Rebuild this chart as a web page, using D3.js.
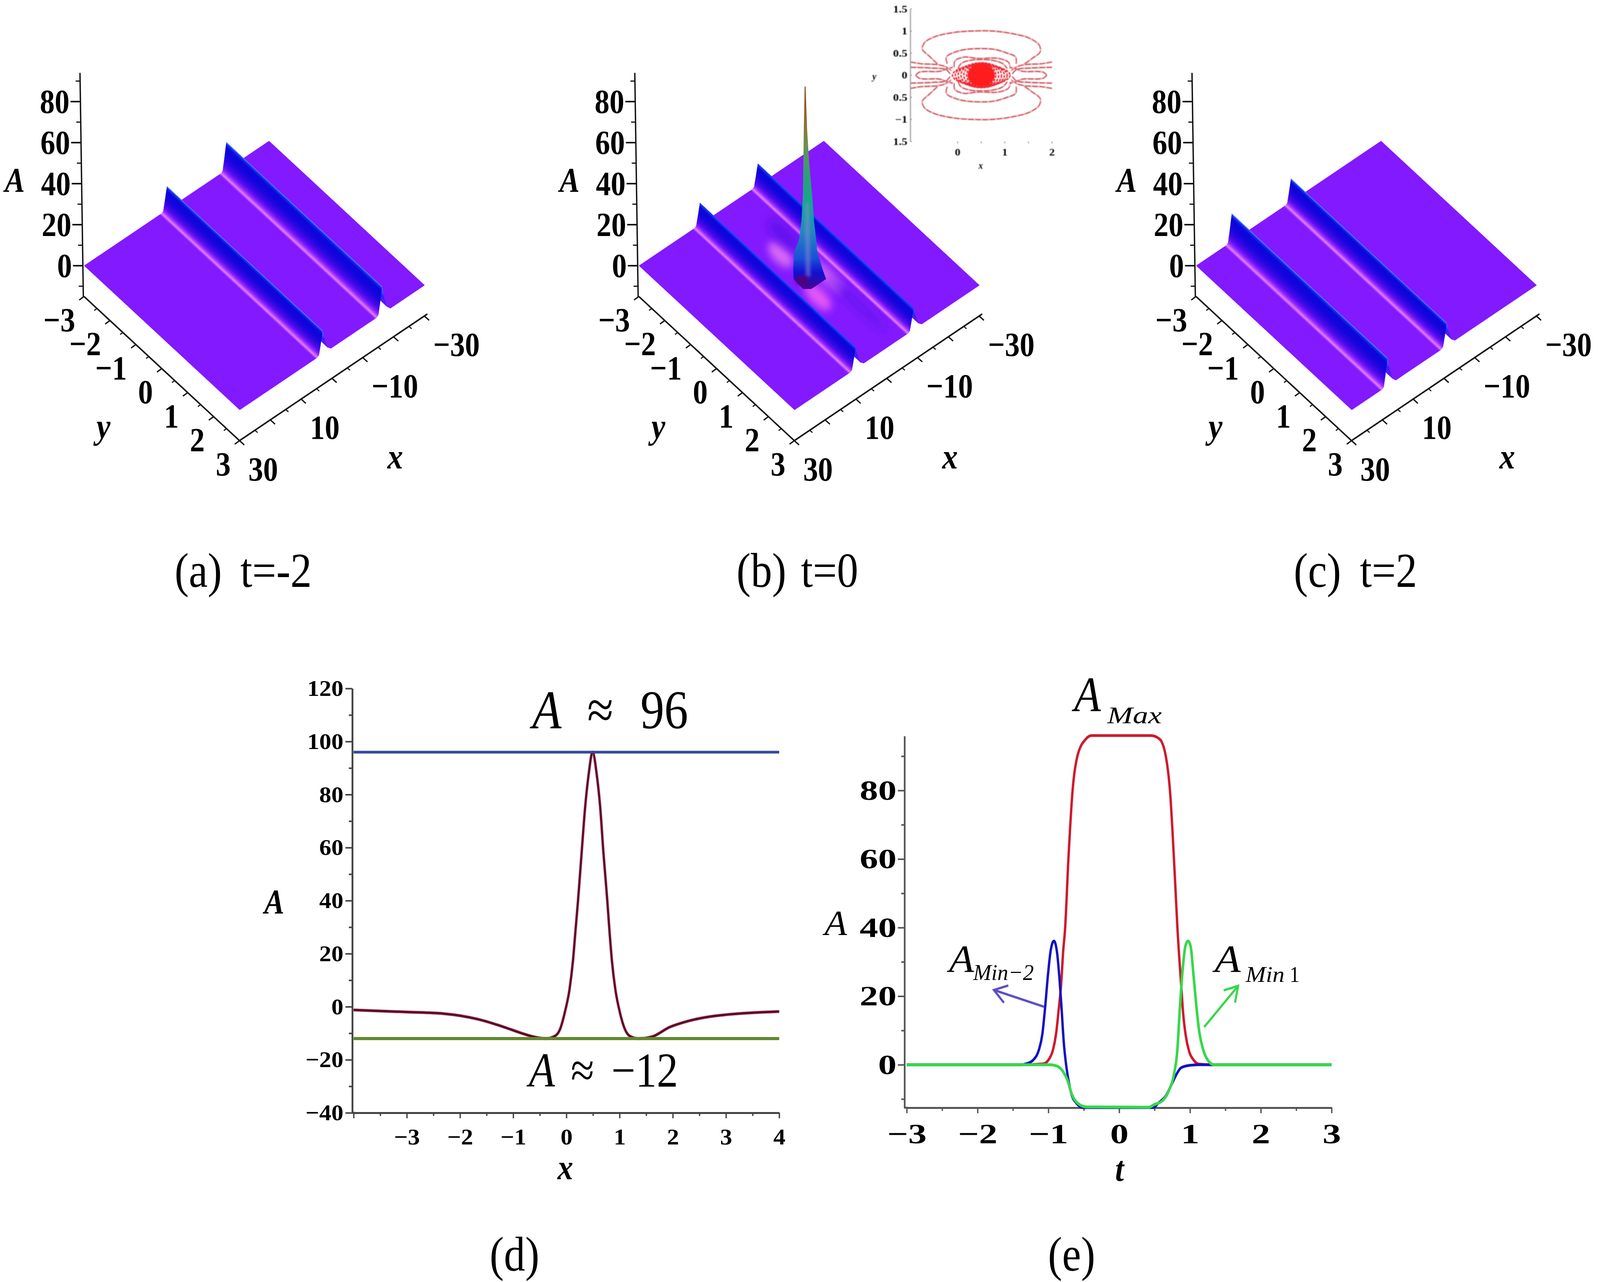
<!DOCTYPE html>
<html>
<head>
<meta charset="utf-8">
<script src="https://cdn.jsdelivr.net/npm/d3@7"></script>
<style>
html, body { margin: 0; padding: 0; background: #fff; overflow: hidden; }
svg { display: block; width: 100vw; height: 100vh; }
text { font-family: "Liberation Serif", serif; fill: #000; }
</style>
</head>
<body>
<div id="chart"></div>
<script>
// ridge crests of the three surfaces, x position and height
var crestX_a = [-16.3, 3.0], crestA_a = [13.3, 11.3]
var crestX_b = [-8.7, 10.1], crestA_b = [10.5, 10.4]
var crestX_c = [-0.9, 18.3], crestA_c = [11.1, 13.5]

// cross section of one ridge: distance from crest, share of the crest height, colour
var ridgeOffset = [-2.6, -1.5, -0.6, 0, 0.06, 0.2, 0.5, 0.8, 1.1, 1.3, 1.85, 2.5]
var ridgeShare = [0, 0.15, 0.55, 1, 0.95, 0.85, 0.62, 0.4, 0.2, 0.06, 0, 0]
var ridgeColor = ["#8219ff", "#6418fa", "#2a20f0", "#4f78ff", "#1530ee", "#0a06dc", "#1204dc", "#2c06e2", "#5a0cf0", "#9228ff", "#e67bff", "#8219ff"]
var flatColor = "#8219ff"

// the spike of panel (b)
var spikeX = 2.9, spikeY = 0.31
var spikeA = [98.7, 77, 61.5, 46, 33, 24, 18, 9.7, 4.8, 0]
var spikeLeft = [0.2, 0.7, 1.0, 1.3, 1.9, 2.8, 4.4, 4.8, 4.7, 1.7]
var spikeRight = [0.1, 0.4, 0.9, 1.7, 2.2, 2.8, 3.1, 4.7, 5.8, 1.0]
var spikeStopA = [98.7, 85, 70, 55, 40, 28, 15, 8, 2, 0]
var spikeStopColor = ["#7a4a20", "#98622a", "#6f9050", "#2c9f78", "#10a892", "#2088c0", "#1a50d8", "#1010d0", "#3a08a0", "#4a0090"]

// soft patches on the surface around the spike
var blobX = [1.16, 2.68, -3.18, -3.4, -3.3]
var blobY = [-0.97, 0.65, 0.22, -1.38, 1.48]
var blobAlong = [0.45, 0.5, 0.7, 0.6, 1.1]
var blobAcross = [2.2, 2.2, 2.0, 2.4, 1.4]
var blobColor = ["#e878f4", "#f060f4", "#e878f4", "#5a10e8", "#5a12e8"]
var blobOpacity = [0.85, 0.9, 0.7, 0.7, 0.6]

var zMajor = [0, 20, 40, 60, 80], zMinor = [-10, 10, 30, 50, 70, 90]
var yMajor = [-3, -2, -1, 0, 1, 2, 3], yMinor = [-2.5, -1.5, -0.5, 0.5, 1.5, 2.5]
var xLabelled = [-30, -10, 10, 30], xMajor = [-30, -20, -10, 0, 10, 20, 30], xMinor = [-25, -15, -5, 5, 15, 25]

// contour inset, upper half
var lobeX = [-0.43, -0.61, -0.75, -0.70, -0.49, -0.07, 0.28, 0.75, 1.17, 1.52, 1.73, 1.75, 1.58, 1.41]
var lobeY = [0.26, 0.44, 0.59, 0.74, 0.87, 0.97, 1.0, 1.0, 0.94, 0.84, 0.68, 0.53, 0.38, 0.25]
var ring2X = [-0.22, -0.24, -0.04, 0.22, 0.75, 1.05, 1.23, 1.24], ring2Y = [0.26, 0.41, 0.53, 0.59, 0.59, 0.50, 0.41, 0.26]
var ring3X = [-0.07, -0.06, 0.13, 0.43, 0.87, 1.08, 1.12], ring3Y = [0.18, 0.32, 0.41, 0.38, 0.38, 0.29, 0.15]
var ring4X = [0.01, 0.07, 0.28, 0.72, 0.96, 1.05], ring4Y = [0.15, 0.26, 0.34, 0.34, 0.26, 0.15]
var side1X = [-1, -0.78, -0.43, -0.25, -0.13], side1Y = [0.30, 0.26, 0.24, 0.19, 0.10]
var side2X = [-1, -0.49, -0.25, -0.16], side2Y = [0.18, 0.16, 0.13, 0.03]
var fingerX = [-0.89, -0.81, -0.37, -0.22, -0.10], fingerY = [0, 0.07, 0.09, 0.15, 0.18]
var coreRx = [0.31, 0.37, 0.43, 0.49, 0.55, 0.61], coreRy = [0.26, 0.27, 0.28, 0.27, 0.25, 0.22]
var insetYTicks = [1.5, 1, 0.5, 0, -0.5, -1, -1.5]
var insetYLabels = ["1.5", "1", "0.5", "0", "0.5", "\u22121", "1.5"]
var insetXTicks = [0, 0.5, 1, 1.5, 2]

// panel (d)
var dX = [-4, -3, -2.31, -1.665, -1.167, -0.84, -0.58, -0.385, -0.22, -0.12, -0.025, 0.058, 0.122, 0.172, 0.22, 0.286, 0.351, 0.417, 0.492, 0.571, 0.636, 0.696, 0.767, 0.808, 0.857, 0.92, 1.0, 1.1, 1.196, 1.36, 1.61, 1.94, 2.27, 2.82, 3, 4]
var dA = [-1.2, -2, -2.6, -4.7, -7.7, -10, -11.5, -12, -11.1, -8.5, -1.7, 6.5, 17.1, 29, 40.4, 58, 75, 87.4, 96, 87.4, 75, 58, 40.4, 29, 17, 6.5, -1.7, -8.5, -11.1, -12, -11.3, -7.7, -5.5, -3.4, -3, -1.8]
var dTop = 96, dBottom = -12

// panel (e)
var redT = [-3, -1.4, -1.069, -0.989, -0.934, -0.892, -0.852, -0.82, -0.789, -0.765, -0.717, -0.658, -0.59, -0.47, -0.39, 0.447, 0.57, 0.658, 0.717, 0.786, 0.824, 0.873, 0.905, 0.937, 0.986, 1.05, 1.13, 1.3, 3]
var redA = [0, 0, 0.3, 1.7, 4.4, 8.9, 16.5, 23.4, 33.6, 39.3, 60, 80, 90, 95, 96, 96, 95, 90, 80, 55, 39.3, 24, 14.6, 8.9, 4, 1.4, 0.2, 0, 0]
var blueT = [-3, -1.4, -1.31, -1.2, -1.133, -1.085, -1.045, -1.005, -0.965, -0.921, -0.876, -0.844, -0.815, -0.78, -0.748, -0.717, -0.669, -0.603, -0.507, 0.48, 0.552, 0.665, 0.745, 0.809, 0.873, 0.986, 1.15, 3]
var blueA = [0, 0, 0.3, 1.7, 4.4, 8.9, 16.9, 26.4, 33.6, 36.1, 32.5, 25.3, 16.9, 5.9, -0.2, -4.4, -8.9, -11.2, -12.5, -12.5, -11.2, -8.9, -5.5, -2.8, -0.9, -0.2, 0, 0]
var greenT = [-3, -1.358, -0.973, -0.876, -0.796, -0.732, -0.669, -0.587, -0.459, 0.42, 0.487, 0.616, 0.697, 0.776, 0.817, 0.857, 0.897, 0.937, 0.973, 1.01, 1.05, 1.089, 1.13, 1.186, 1.25, 1.339, 3]
var greenA = [0, 0, 0, -0.4, -1.9, -4.4, -8.6, -11.2, -12.3, -12.4, -11.7, -10.4, -7.8, -2.5, 3.2, 16.5, 27.9, 34.8, 36.1, 34.4, 26, 17.3, 9.7, 4.4, 1.4, 0, 0]

// the window can be narrower than the picture, the viewBox keeps every mark at its place
var svg = d3.select("#chart").append("svg")
    .attr("viewBox", "0 0 4692 3281")
    .attr("preserveAspectRatio", "none")
var defs = svg.append("defs")
defs.append("filter").attr("id", "soft").attr("x", "-60%").attr("y", "-60%").attr("width", "220%").attr("height", "220%")
    .append("feGaussianBlur").attr("stdDeviation", 11)
defs.append("filter").attr("id", "softer").attr("x", "-10%").attr("y", "-10%").attr("width", "120%").attr("height", "120%")
    .append("feGaussianBlur").attr("stdDeviation", 1.1)
defs.append("filter").attr("id", "streak").attr("x", "-100%").attr("y", "-10%").attr("width", "300%").attr("height", "120%")
    .append("feGaussianBlur").attr("stdDeviation", 4)

var gradId = 0
var noLabel = function () { return "" }

function label(g, x, y, str, opt) {
    opt = opt || {}
    var t = g.append("text")
        .attr("x", x).attr("y", y)
        .attr("font-size", opt.size || 87)
        .attr("font-weight", opt.bold ? "bold" : "normal")
        .attr("font-style", opt.italic ? "italic" : "normal")
        .attr("text-anchor", opt.anchor || "start")
        .text(str)
    if (opt.sx) stretch(t, opt.sx)
    return t
}

function stretch(sel, sx) {
    sel.each(function () {
        var w = this.getComputedTextLength()
        if (w > 0) d3.select(this).attr("textLength", w * sx).attr("lengthAdjust", "spacingAndGlyphs")
    })
}

// ---- the three surfaces ----
function surfacePanel(left, crestX, crestA, crestTint, withSpike) {
    var g = svg.append("g")
    var uScale = d3.scaleLinear().domain([30, -30]).range([0, 1])
    var vScale = d3.scaleLinear().domain([-3, 3]).range([0, 1])
    var zPx = d3.scaleLinear().domain([0, 1]).range([0, 5.25])

    var project = function (x, y, a) {
        var u = uScale(x), v = vScale(y)
        return [left + 247 + u * 542 + v * 456 - 0.09 * a,
                680 - u * 319 + v * 369 - zPx(a)]
    }
    var floor = function (x, y) {
        var p = project(x, y, -15)
        return [p[0] - 2, p[1]]
    }
    var ridgeDir = [456 / 586.6, 369 / 586.6]
    var normal = [ridgeDir[1], -ridgeDir[0]]

    var strip = function (x0, a0, c0, x1, a1, c1) {
        var p0 = project(x0, -3, a0), p1 = project(x0, 3, a0)
        var q0 = project(x1, -3, a1), q1 = project(x1, 3, a1)
        var d = (q0[0] - p0[0]) * normal[0] + (q0[1] - p0[1]) * normal[1]
        var id = "strip" + (gradId++)
        var grad = defs.append("linearGradient").attr("id", id)
            .attr("gradientUnits", "userSpaceOnUse")
            .attr("x1", p0[0]).attr("y1", p0[1])
            .attr("x2", p0[0] + normal[0] * d).attr("y2", p0[1] + normal[1] * d)
        grad.append("stop").attr("offset", 0).attr("stop-color", c0)
        grad.append("stop").attr("offset", 1).attr("stop-color", c1)
        g.append("polygon")
            .attr("points", [p0, p1, q1, q0].map(function (p) { return p.join(",") }).join(" "))
            .attr("fill", "url(#" + id + ")")
            .attr("stroke", "url(#" + id + ")")
            .attr("stroke-width", 1)
    }

    // painted from the far edge x=-30 to the near edge x=30
    var from = -30
    crestX.forEach(function (cx, r) {
        strip(from, 0, flatColor, cx + ridgeOffset[0], 0, flatColor)
        ridgeOffset.forEach(function (off, i) {
            if (i == 0) return
            var tint = function (k) { return ridgeOffset[k] == 0 ? crestTint : ridgeColor[k] }
            strip(cx + ridgeOffset[i - 1], crestA[r] * ridgeShare[i - 1], tint(i - 1),
                  cx + off, crestA[r] * ridgeShare[i], tint(i))
        })
        from = cx + ridgeOffset[ridgeOffset.length - 1]
        // patches sit between the two ridges, so the near ridge still covers them
        if (withSpike && r == 0) {
            strip(from, 0, flatColor, crestX[1] + ridgeOffset[0], 0, flatColor)
            from = crestX[1] + ridgeOffset[0]
            blobX.forEach(function (bx, i) {
                var c = project(bx, blobY[i], 0)
                g.append("ellipse")
                    .attr("transform", "translate(" + c[0] + "," + c[1] + ") rotate(39)")
                    .attr("rx", blobAlong[i] * 97.8)
                    .attr("ry", blobAcross[i] * 9.8)
                    .attr("fill", blobColor[i])
                    .attr("opacity", blobOpacity[i])
                    .attr("filter", "url(#soft)")
            })
        }
    })
    strip(from, 0, flatColor, 30, 0, flatColor)

    if (withSpike) drawSpike(g, project)

    // z axis
    var ink = "#111"
    var axisLine = function (a, b, w) {
        g.append("line").attr("x1", a[0]).attr("y1", a[1]).attr("x2", b[0]).attr("y2", b[1])
            .attr("stroke", ink).attr("stroke-width", w)
    }
    var zAt = function (a) { var p = project(30, -3, a); return [p[0] - 4, p[1]] }
    axisLine(zAt(-15), zAt(94), 4)
    zMajor.forEach(function (a) {
        var p = zAt(a)
        axisLine([p[0] - 29, p[1]], p, 4)
        label(g, p[0] - 32, p[1] + 29, d3.format("")(a), { size: 87, bold: true, anchor: "end" })
    })
    zMinor.forEach(function (a) {
        var p = zAt(a)
        axisLine([p[0] - 13, p[1]], p, 3)
    })

    // y axis along the left lower edge
    axisLine(floor(30, -3), floor(30, 3), 4)
    yMajor.forEach(function (y) {
        var p = floor(30, y)
        axisLine(p, [p[0] - 14, p[1] + 9], 3.5)
        label(g, p[0] - 26, p[1] + 89, d3.format("")(y), { size: 87, bold: true, anchor: "end" })
    })
    yMinor.forEach(function (y) {
        var p = floor(30, y)
        axisLine(p, [p[0] - 8, p[1] + 5], 3)
    })

    // x axis along the right lower edge
    axisLine(floor(30, 3), floor(-31, 3), 4)
    xMajor.forEach(function (x) {
        var p = floor(x, 3)
        axisLine(p, [p[0] + 14, p[1] + 11], 3.5)
    })
    xMinor.forEach(function (x) {
        var p = floor(x, 3)
        axisLine(p, [p[0] + 8, p[1] + 6], 3)
    })
    xLabelled.forEach(function (x) {
        var p = floor(x, 3)
        label(g, p[0] + 26, p[1] + 102, d3.format("")(x), { size: 87, bold: true })
    })

    label(g, left + 14, 490, "A", { size: 88, bold: true, italic: true })
    label(g, left + 283, 1122, "y", { size: 92, bold: true, italic: true })
    label(g, left + 1136, 1199, "x", { size: 92, bold: true, italic: true })
}

function drawSpike(g, project) {
    var unit = 542 / 60
    var edge = function (a, w) {
        var p = project(spikeX, spikeY, a)
        return [p[0] + w * unit, p[1]]
    }
    var top = project(spikeX, spikeY, spikeA[0])[1]
    var bottom = project(spikeX, spikeY, spikeA[spikeA.length - 1])[1]
    var yPos = d3.scaleLinear().domain([top, bottom]).range([0, 1])
    var grad = defs.append("linearGradient").attr("id", "spikeFill")
        .attr("gradientUnits", "userSpaceOnUse")
        .attr("x1", 0).attr("x2", 0).attr("y1", top).attr("y2", bottom)
    spikeStopA.forEach(function (a, i) {
        grad.append("stop")
            .attr("offset", yPos(project(spikeX, spikeY, a)[1]))
            .attr("stop-color", spikeStopColor[i])
    })
    var pts = spikeA.map(function (a, i) { return edge(a, -spikeLeft[i]) })
        .concat(spikeA.map(function (a, i) { return edge(a, spikeRight[i]) }).reverse())
    g.append("path")
        .attr("d", d3.line()(pts) + "Z")
        .attr("fill", "url(#spikeFill)")

    // pale streak down the lower part of the spike, dark foot below it
    var s0 = edge(42, 0), s1 = edge(6, 0)
    g.append("path")
        .attr("d", d3.line()([[s0[0] - 6, s0[1]], [s0[0] + 6, s0[1]], [s1[0] + 7, s1[1]], [s1[0] - 7, s1[1]]]) + "Z")
        .attr("fill", "#8a88cc").attr("opacity", 0.55).attr("filter", "url(#streak)")
    var foot = project(spikeX, spikeY, 3)
    g.append("ellipse")
        .attr("cx", foot[0] - 18).attr("cy", foot[1] - 6)
        .attr("rx", 20).attr("ry", 13)
        .attr("fill", "#5a0070").attr("opacity", 0.75).attr("filter", "url(#streak)")
}

surfacePanel(0, crestX_a, crestA_a, "#5a86ff", false)
surfacePanel(1627, crestX_b, crestA_b, "#2a4cff", true)
surfacePanel(3261, crestX_c, crestA_c, "#5a86ff", false)

// ---- contour inset ----
function drawInset() {
    var g = svg.append("g").attr("filter", "url(#softer)")
    var x = d3.scaleLinear().domain([-1, 2]).range([2670, 3085])
    var y = d3.scaleLinear().domain([-1.5, 1.5]).range([362, 23])
    var line = d3.line().curve(d3.curveCatmullRom).x(function (d) { return x(d[0]) }).y(function (d) { return y(d[1]) })

    var contour = function (xs, ys, sx, sy) {
        var pts = xs.map(function (v, i) { return [sx < 0 ? 1 - v : v, sy * ys[i]] })
        g.append("path").attr("d", line(pts)).attr("fill", "none")
            .attr("stroke", "#f2b4b8").attr("stroke-width", 4.5)
        g.append("path").attr("d", line(pts)).attr("fill", "none")
            .attr("stroke", "#bf2c3a").attr("stroke-width", 2.4)
            .attr("stroke-dasharray", "16 5")
    }
    ;[1, -1].forEach(function (sy) {
        contour(lobeX, lobeY, 1, sy)
        contour(ring2X, ring2Y, 1, sy)
        contour(ring3X, ring3Y, 1, sy)
        contour(ring4X, ring4Y, 1, sy)
        ;[1, -1].forEach(function (sx) {
            contour(side1X, side1Y, sx, sy)
            contour(side2X, side2Y, sx, sy)
            contour(fingerX, fingerY, sx, sy)
        })
    })
    coreRx.forEach(function (rx, i) {
        g.append("ellipse")
            .attr("cx", x(0.5)).attr("cy", y(0))
            .attr("rx", x(rx) - x(0)).attr("ry", y(0) - y(coreRy[i]))
            .attr("fill", "none").attr("stroke", "#ee2630").attr("stroke-width", 4)
            .attr("stroke-dasharray", "7 3")
    })
    g.append("ellipse")
        .attr("cx", x(0.5)).attr("cy", y(0))
        .attr("rx", x(0.29) - x(0)).attr("ry", y(0) - y(0.25))
        .attr("fill", "#ff1a1a")

    g.append("line").attr("x1", x(-1)).attr("x2", x(-1)).attr("y1", y(1.5)).attr("y2", y(-1.5))
        .attr("stroke", "#999").attr("stroke-width", 3)
    insetYTicks.forEach(function (v, i) {
        g.append("line").attr("x1", x(-1)).attr("x2", x(-1) + 4).attr("y1", y(v)).attr("y2", y(v))
            .attr("stroke", "#777").attr("stroke-width", 2)
        label(g, x(-1) - 9, y(v) + 9, insetYLabels[i], { size: 25, bold: true, anchor: "end", sx: 1.35 })
    })
    insetXTicks.forEach(function (v) {
        g.append("line").attr("x1", x(v)).attr("x2", x(v)).attr("y1", 362).attr("y2", 367)
            .attr("stroke", "#777").attr("stroke-width", 2)
    })
    ;[0, 1, 2].forEach(function (v) {
        label(g, x(v), 398, String(v), { size: 25, bold: true, anchor: "middle", sx: 1.3 })
    })
    label(g, 2564, 204, "y", { size: 26, bold: true, italic: true, anchor: "middle" })
    label(g, 2876, 432, "x", { size: 26, bold: true, italic: true, anchor: "middle" })
}
drawInset()

// ---- panels (d) and (e) ----
function styleAxis(g, size, sx, color) {
    g.select(".domain").attr("stroke", color).attr("stroke-width", 5)
    g.selectAll(".tick line").attr("stroke", color).attr("stroke-width", 4)
    var t = g.selectAll(".tick text")
        .attr("font-family", "Liberation Serif, serif")
        .attr("font-size", size).attr("font-weight", "bold").attr("fill", "#000")
    stretch(t, sx)
}

function lineOf(x, y) {
    return d3.line().curve(d3.curveMonotoneX)
        .x(function (d) { return x(d[0]) }).y(function (d) { return y(d[1]) })
}

function zipPts(xs, ys) {
    return xs.map(function (v, i) { return [v, ys[i]] })
}

function drawD() {
    var g = svg.append("g")
    var x = d3.scaleLinear().domain([-4, 4]).range([1037, 2285])
    var y = d3.scaleLinear().domain([-40, 120]).range([2848, 1762])
    var axisColor = "#444"

    var yMin = g.append("g").attr("transform", "translate(1033,0)")
        .call(d3.axisLeft(y).tickValues(d3.range(-30, 120, 20)).tickSize(10).tickSizeOuter(0).tickFormat(noLabel))
    var yMaj = g.append("g").attr("transform", "translate(1033,0)")
        .call(d3.axisLeft(y).tickValues(d3.range(-40, 121, 20)).tickSize(20).tickSizeOuter(0).tickPadding(6).tickFormat(d3.format("")))
    styleAxis(yMin, 10, 1, axisColor)
    styleAxis(yMaj, 58, 1.22, axisColor)
    var xMin = g.append("g").attr("transform", "translate(0,2848)")
        .call(d3.axisBottom(x).tickValues(d3.range(-3.5, 4, 1)).tickSize(8).tickSizeOuter(0).tickFormat(noLabel))
    var xMaj = g.append("g").attr("transform", "translate(0,2848)")
        .call(d3.axisBottom(x).tickValues(d3.range(-4, 5, 1)).tickSize(14).tickSizeOuter(0).tickPadding(26)
            .tickFormat(function (v) { return v == -4 ? "" : d3.format("")(v) }))
    styleAxis(xMin, 10, 1, axisColor)
    styleAxis(xMaj, 58, 1.22, axisColor)
    g.append("line").attr("x1", 1031).attr("x2", 1040).attr("y1", 2848).attr("y2", 2848)
        .attr("stroke", axisColor).attr("stroke-width", 5)

    var line = lineOf(x, y)
    g.append("path").attr("d", line(zipPts(dX, dA))).attr("fill", "none")
        .attr("stroke", "#d06a86").attr("stroke-width", 9).attr("opacity", 0.6)
    g.append("path").attr("d", line(zipPts(dX, dA))).attr("fill", "none")
        .attr("stroke", "#5c0a26").attr("stroke-width", 6)
    g.append("path").attr("d", line(zipPts([-4, 4], [dTop, dTop]))).attr("fill", "none")
        .attr("stroke", "#37479b").attr("stroke-width", 7)
    g.append("path").attr("d", line(zipPts([-4, 4], [dBottom, dBottom]))).attr("fill", "none")
        .attr("stroke", "#5f8a2e").attr("stroke-width", 8)

    label(g, 775, 2337, "A", { size: 88, bold: true, italic: true })
    label(g, 1658, 3018, "x", { size: 92, bold: true, italic: true, anchor: "middle" })
    label(g, 1561, 1864, "A", { size: 140, italic: true })
    label(g, 1722, 1864, "\u2248", { size: 140 })
    label(g, 1878, 1864, "96", { size: 140 })
    label(g, 1551, 2781, "A", { size: 125, italic: true })
    label(g, 1674, 2781, "\u2248", { size: 125 })
    label(g, 1793, 2781, "\u221212", { size: 125 })
}
drawD()

function drawE() {
    var g = svg.append("g")
    var x = d3.scaleLinear().domain([-3, 3]).range([2659, 3905])
    var y = d3.scaleLinear().domain([0, 80]).range([2725, 2023])
    var axisColor = "#555"

    var yMin = g.append("g").attr("transform", "translate(2653,0)")
        .call(d3.axisLeft(y).tickValues(d3.range(-10, 100, 20)).tickSize(10).tickSizeOuter(0).tickFormat(noLabel))
    var yMaj = g.append("g").attr("transform", "translate(2653,0)")
        .call(d3.axisLeft(y).tickValues(d3.range(0, 81, 20)).tickSize(20).tickSizeOuter(0).tickPadding(4).tickFormat(d3.format("")))
    styleAxis(yMin, 10, 1, axisColor)
    styleAxis(yMaj, 72, 1.5, axisColor)
    yMaj.select(".domain").remove()
    yMin.select(".domain").remove()
    g.append("line").attr("x1", 2653).attr("x2", 2653).attr("y1", y(95.8)).attr("y2", y(-12.5))
        .attr("stroke", axisColor).attr("stroke-width", 5)
    var xMin = g.append("g").attr("transform", "translate(0,2835)")
        .call(d3.axisBottom(x).tickValues(d3.range(-2.5, 3, 1)).tickSize(8).tickSizeOuter(0).tickFormat(noLabel))
    var xMaj = g.append("g").attr("transform", "translate(0,2835)")
        .call(d3.axisBottom(x).tickValues(d3.range(-3, 4, 1)).tickSize(14).tickSizeOuter(0).tickPadding(26).tickFormat(d3.format("")))
    styleAxis(xMin, 10, 1, axisColor)
    styleAxis(xMaj, 72, 1.5, axisColor)
    g.append("line").attr("x1", 2651).attr("x2", 2662).attr("y1", 2835).attr("y2", 2835)
        .attr("stroke", axisColor).attr("stroke-width", 5)

    var line = lineOf(x, y)
    g.append("path").attr("d", line(zipPts(redT, redA))).attr("fill", "none")
        .attr("stroke", "#cf1a2c").attr("stroke-width", 7)
    g.append("path").attr("d", line(zipPts(blueT, blueA))).attr("fill", "none")
        .attr("stroke", "#1212c0").attr("stroke-width", 7)
    g.append("path").attr("d", line(zipPts(greenT, greenA))).attr("fill", "none")
        .attr("stroke", "#36d84a").attr("stroke-width", 7.5)

    // arrows, given in data coordinates
    var arrow = function (t0, a0, t1, a1, color) {
        var p0 = [x(t0), y(a0)], p1 = [x(t1), y(a1)]
        var ang = Math.atan2(p0[1] - p1[1], p0[0] - p1[0])
        var wing = function (da) {
            return [p1[0] + 44 * Math.cos(ang + da), p1[1] + 44 * Math.sin(ang + da)]
        }
        g.append("path").attr("fill", "none").attr("stroke", color).attr("stroke-width", 6)
            .attr("d", d3.line()([p0, p1]) + d3.line()([wing(0.55), p1, wing(-0.55)]))
    }
    arrow(-1.06, 16.9, -1.77, 21.8, "#5a50c8")
    arrow(1.2, 11, 1.68, 23, "#36d84a")

    label(g, 2418, 2393, "A", { size: 90, italic: true, sx: 1.2 })
    label(g, 3283, 3022, "t", { size: 92, bold: true, italic: true, anchor: "middle" })

    label(g, 3150, 1820, "A", { size: 128, italic: true })
    label(g, 3247, 1851, "Max", { size: 62, italic: true, sx: 1.45 })
    label(g, 2783, 2488, "A", { size: 100, italic: true, sx: 1.2 })
    label(g, 2854, 2508, "Min\u22122", { size: 58, italic: true, sx: 1.1 })
    label(g, 3562, 2488, "A", { size: 100, italic: true, sx: 1.25 })
    label(g, 3653, 2513, "Min", { size: 58, italic: true, sx: 1.22 })
    label(g, 3782, 2513, "1", { size: 58 })
}
drawE()

// ---- captions ----
var captions = svg.append("g")
label(captions, 512, 1502, "(a)", { size: 125 })
label(captions, 705, 1502, "t=-2", { size: 125 })
label(captions, 2160, 1502, "(b)", { size: 125 })
label(captions, 2349, 1502, "t=0", { size: 125 })
label(captions, 3794, 1502, "(c)", { size: 125 })
label(captions, 3988, 1502, "t=2", { size: 125 })
label(captions, 1436, 3252, "(d)", { size: 125 })
label(captions, 3073, 3252, "(e)", { size: 125 })
</script>
</body>
</html>
